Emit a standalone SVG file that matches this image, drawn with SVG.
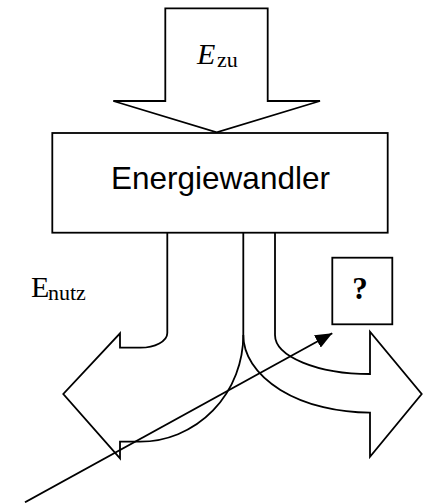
<svg xmlns="http://www.w3.org/2000/svg" width="423" height="503" viewBox="0 0 423 503">
<defs>
<style>
.s{fill:none;stroke:#000;stroke-width:1.8;stroke-linejoin:miter}
.w{fill:#fff;stroke:#000;stroke-width:1.8}
.serif{font-family:"Liberation Serif","Times New Roman",serif;fill:#000}
.sans{font-family:"Liberation Sans",Arial,sans-serif;fill:#000}
</style>
<marker id="ah" markerWidth="17" markerHeight="14" refX="17" refY="7" orient="auto" markerUnits="userSpaceOnUse">
<path d="M0,0 L17,7 L0,14 z" fill="#000"/>
</marker>
</defs>
<g id="input-arrow">
<polygon class="w" points="165.3,8.3 267.7,8.3 267.7,101 320,101 216.7,132.3 113.3,101 165.3,101"/>
<text class="serif" x="197" y="64" font-size="30" font-style="italic">E</text>
<text class="serif" x="217" y="67" font-size="22">zu</text>
</g>
<g id="converter">
<rect class="w" x="52.3" y="133" width="335.4" height="99.7"/>
<text class="sans" x="220.5" y="188.5" font-size="31.5" text-anchor="middle">Energiewandler</text>
</g>
<g id="useful-arrow">
<path class="s" d="M167.3,232.7 V333 A27,14.7 0 0 1 140,347.7 H120 V333.3 L63.3,394 L120,458.3 V441.7 H140 A103.3,106.7 0 0 0 243.3,335 V232.7"/>
<text class="serif" x="31" y="297" font-size="30">E</text>
<text class="serif" x="48" y="300" font-size="22">nutz</text>
</g>
<g id="other-arrow">
<path class="s" d="M275,232.7 V335 A95,39 0 0 0 370,374 V331.7 L421.7,394 L370,456.7 V412.7 A126.7,77.7 0 0 1 243.3,335"/>
</g>
<g id="unknown">
<rect class="w" x="332.3" y="257.7" width="60" height="66.6"/>
<text class="serif" x="360" y="299" font-size="31" font-weight="bold" text-anchor="middle">?</text>
</g>
<g id="connectors">
<line class="s" x1="25" y1="502.3" x2="332.3" y2="333.3" marker-end="url(#ah)"/>
</g>
</svg>
